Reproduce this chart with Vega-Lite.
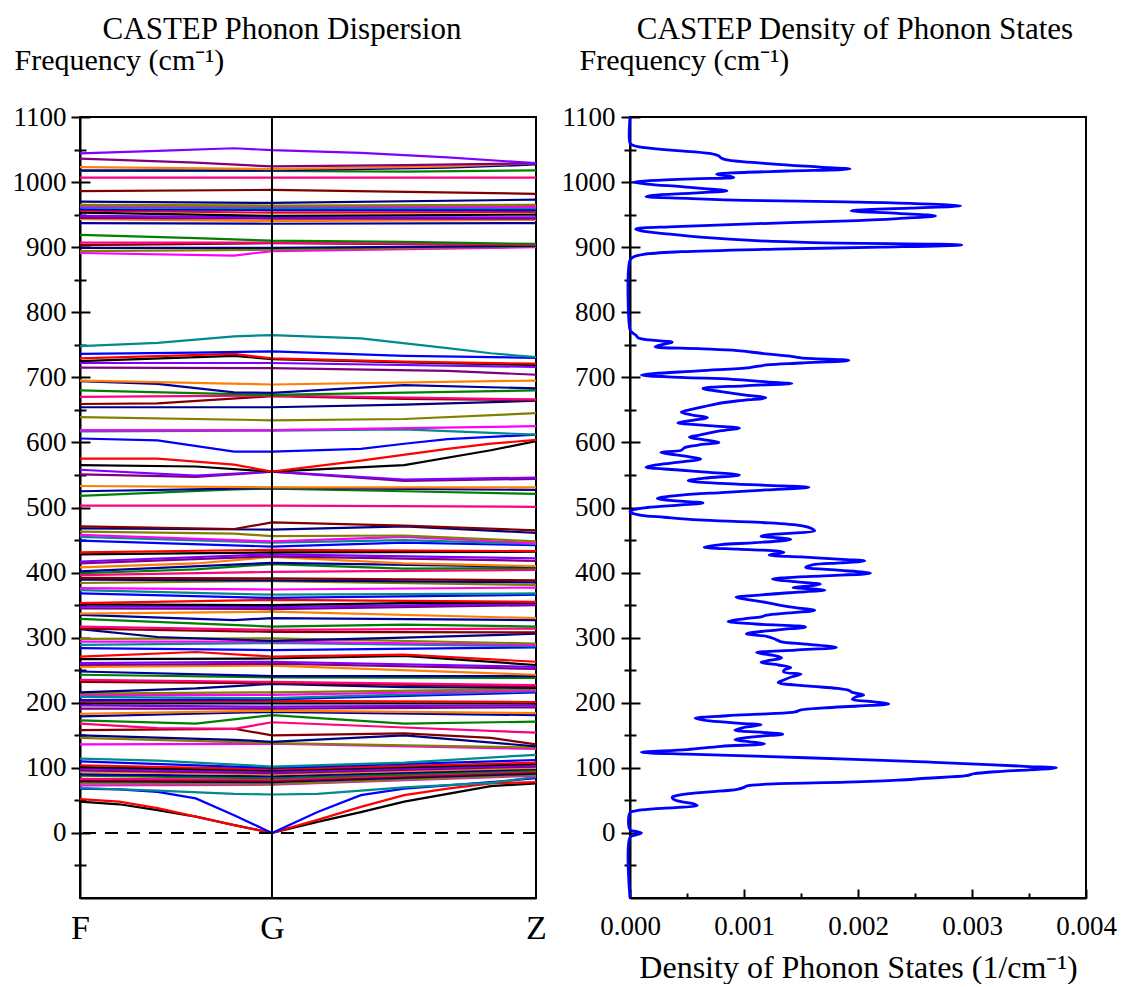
{
"$schema":"https://vega.github.io/schema/vega-lite/v6.json",
"background":"white",
"padding":{"left":11,"top":13,"right":0,"bottom":0},
"config":{
"view":{"stroke":"black","strokeWidth":2},
"font":"Liberation Serif",
"axis":{"domainColor":"black","domainWidth":2,"tickColor":"black","tickWidth":2,"labelColor":"black","titleColor":"black","labelFont":"Liberation Serif","titleFont":"Liberation Serif","titleFontWeight":"normal","grid":false,"labelFlush":false,"labelOverlap":false},
"title":{"font":"Liberation Serif","fontWeight":"normal","fontSize":31,"color":"black"}
},
"datasets":{
"bands":[
{"b":1,"k":0,"f":48},{"b":1,"k":0.086,"f":44},{"b":1,"k":0.17,"f":35},{"b":1,"k":0.254,"f":25},{"b":1,"k":0.338,"f":12},{"b":1,"k":0.421,"f":0},{"b":1,"k":0.521,"f":17},{"b":1,"k":0.616,"f":32},{"b":1,"k":0.711,"f":48},{"b":1,"k":0.806,"f":60},{"b":1,"k":0.901,"f":72},{"b":1,"k":1,"f":76},
{"b":2,"k":0,"f":52},{"b":2,"k":0.086,"f":48},{"b":2,"k":0.17,"f":38},{"b":2,"k":0.254,"f":25},{"b":2,"k":0.338,"f":12},{"b":2,"k":0.421,"f":0},{"b":2,"k":0.521,"f":20},{"b":2,"k":0.616,"f":40},{"b":2,"k":0.711,"f":58},{"b":2,"k":0.806,"f":68},{"b":2,"k":0.901,"f":76},{"b":2,"k":1,"f":78},
{"b":3,"k":0,"f":68},{"b":3,"k":0.086,"f":67},{"b":3,"k":0.17,"f":63},{"b":3,"k":0.254,"f":53},{"b":3,"k":0.338,"f":27},{"b":3,"k":0.421,"f":0},{"b":3,"k":0.521,"f":32},{"b":3,"k":0.616,"f":58},{"b":3,"k":0.711,"f":68},{"b":3,"k":0.806,"f":73},{"b":3,"k":0.901,"f":78},{"b":3,"k":1,"f":84},
{"b":4,"k":0,"f":69},{"b":4,"k":0.17,"f":65},{"b":4,"k":0.338,"f":60},{"b":4,"k":0.421,"f":59},{"b":4,"k":0.521,"f":60},{"b":4,"k":0.711,"f":70},{"b":4,"k":0.901,"f":77},{"b":4,"k":1,"f":86},
{"b":5,"k":0,"f":73},{"b":5,"k":0.421,"f":74},{"b":5,"k":1,"f":88},
{"b":6,"k":0,"f":76},{"b":6,"k":0.421,"f":75},{"b":6,"k":1,"f":89},
{"b":7,"k":0,"f":79},{"b":7,"k":0.421,"f":78},{"b":7,"k":1,"f":91},
{"b":8,"k":0,"f":81},{"b":8,"k":0.421,"f":80},{"b":8,"k":1,"f":93},
{"b":9,"k":0,"f":83},{"b":9,"k":0.421,"f":82},{"b":9,"k":1,"f":95},
{"b":10,"k":0,"f":88},{"b":10,"k":0.421,"f":84},{"b":10,"k":1,"f":96},
{"b":11,"k":0,"f":90},{"b":11,"k":0.421,"f":87},{"b":11,"k":1,"f":98},
{"b":12,"k":0,"f":94},{"b":12,"k":0.421,"f":90},{"b":12,"k":1,"f":100},
{"b":13,"k":0,"f":96},{"b":13,"k":0.421,"f":92},{"b":13,"k":1,"f":102},
{"b":14,"k":0,"f":99},{"b":14,"k":0.421,"f":94},{"b":14,"k":1,"f":104},
{"b":15,"k":0,"f":101},{"b":15,"k":0.421,"f":96},{"b":15,"k":1,"f":106},
{"b":16,"k":0,"f":104},{"b":16,"k":0.421,"f":98},{"b":16,"k":1,"f":108},
{"b":17,"k":0,"f":110},{"b":17,"k":0.421,"f":100},{"b":17,"k":1,"f":112},
{"b":18,"k":0,"f":114},{"b":18,"k":0.17,"f":111},{"b":18,"k":0.421,"f":102},{"b":18,"k":0.711,"f":108},{"b":18,"k":1,"f":120},
{"b":19,"k":0,"f":136},{"b":19,"k":0.421,"f":137},{"b":19,"k":1,"f":129},
{"b":20,"k":0,"f":146},{"b":20,"k":0.421,"f":138},{"b":20,"k":1,"f":131},
{"b":21,"k":0,"f":150},{"b":21,"k":0.338,"f":143},{"b":21,"k":0.421,"f":140},{"b":21,"k":0.711,"f":150},{"b":21,"k":1,"f":133},
{"b":22,"k":0,"f":158},{"b":22,"k":0.338,"f":160},{"b":22,"k":0.421,"f":150},{"b":22,"k":0.711,"f":153},{"b":22,"k":0.901,"f":146},{"b":22,"k":1,"f":136},
{"b":23,"k":0,"f":168},{"b":23,"k":0.17,"f":161},{"b":23,"k":0.338,"f":160},{"b":23,"k":0.421,"f":170},{"b":23,"k":0.711,"f":162},{"b":23,"k":1,"f":154},
{"b":24,"k":0,"f":173},{"b":24,"k":0.254,"f":168},{"b":24,"k":0.421,"f":181},{"b":24,"k":0.711,"f":168},{"b":24,"k":1,"f":171},
{"b":25,"k":0,"f":179},{"b":25,"k":0.421,"f":186},{"b":25,"k":1,"f":181},
{"b":26,"k":0,"f":183},{"b":26,"k":0.421,"f":188},{"b":26,"k":1,"f":184},
{"b":27,"k":0,"f":191},{"b":27,"k":0.421,"f":191},{"b":27,"k":1,"f":193},
{"b":28,"k":0,"f":196},{"b":28,"k":0.421,"f":194},{"b":28,"k":1,"f":196},
{"b":29,"k":0,"f":199},{"b":29,"k":0.421,"f":199},{"b":29,"k":1,"f":199},
{"b":30,"k":0,"f":202},{"b":30,"k":0.421,"f":203},{"b":30,"k":1,"f":201},
{"b":31,"k":0,"f":204},{"b":31,"k":0.421,"f":205},{"b":31,"k":1,"f":216},
{"b":32,"k":0,"f":209},{"b":32,"k":0.421,"f":207},{"b":32,"k":1,"f":218},
{"b":33,"k":0,"f":212},{"b":33,"k":0.421,"f":212},{"b":33,"k":1,"f":219},
{"b":34,"k":0,"f":214},{"b":34,"k":0.421,"f":216},{"b":34,"k":1,"f":221},
{"b":35,"k":0,"f":216},{"b":35,"k":0.254,"f":222},{"b":35,"k":0.421,"f":229},{"b":35,"k":0.711,"f":224},{"b":35,"k":1,"f":223},
{"b":36,"k":0,"f":232},{"b":36,"k":0.421,"f":230},{"b":36,"k":1,"f":225},
{"b":37,"k":0,"f":235},{"b":37,"k":0.421,"f":232},{"b":37,"k":1,"f":227},
{"b":38,"k":0,"f":243},{"b":38,"k":0.421,"f":239},{"b":38,"k":1,"f":238},
{"b":39,"k":0,"f":248},{"b":39,"k":0.421,"f":241},{"b":39,"k":1,"f":241},
{"b":40,"k":0,"f":255},{"b":40,"k":0.421,"f":257},{"b":40,"k":1,"f":243},
{"b":41,"k":0,"f":258},{"b":41,"k":0.421,"f":260},{"b":41,"k":1,"f":252},
{"b":42,"k":0,"f":261},{"b":42,"k":0.421,"f":263},{"b":42,"k":1,"f":255},
{"b":43,"k":0,"f":267},{"b":43,"k":0.421,"f":268},{"b":43,"k":0.711,"f":272},{"b":43,"k":1,"f":258},
{"b":44,"k":0,"f":271},{"b":44,"k":0.254,"f":278},{"b":44,"k":0.421,"f":271},{"b":44,"k":0.711,"f":274},{"b":44,"k":1,"f":263},
{"b":45,"k":0,"f":284},{"b":45,"k":0.421,"f":281},{"b":45,"k":1,"f":285},
{"b":46,"k":0,"f":289},{"b":46,"k":0.421,"f":292},{"b":46,"k":1,"f":287},
{"b":47,"k":0,"f":294},{"b":47,"k":0.421,"f":294},{"b":47,"k":1,"f":289},
{"b":48,"k":0,"f":298},{"b":48,"k":0.421,"f":299},{"b":48,"k":1,"f":291},
{"b":49,"k":0,"f":313},{"b":49,"k":0.17,"f":301},{"b":49,"k":0.421,"f":295},{"b":49,"k":0.711,"f":300},{"b":49,"k":1,"f":306},
{"b":50,"k":0,"f":314},{"b":50,"k":0.421,"f":309},{"b":50,"k":1,"f":308},
{"b":51,"k":0,"f":317},{"b":51,"k":0.421,"f":312},{"b":51,"k":1,"f":314},
{"b":52,"k":0,"f":329},{"b":52,"k":0.421,"f":317},{"b":52,"k":0.711,"f":320},{"b":52,"k":1,"f":317},
{"b":53,"k":0,"f":335},{"b":53,"k":0.338,"f":327},{"b":53,"k":0.421,"f":330},{"b":53,"k":1,"f":327},
{"b":54,"k":0,"f":337},{"b":54,"k":0.421,"f":340},{"b":54,"k":1,"f":330},
{"b":55,"k":0,"f":345},{"b":55,"k":0.421,"f":344},{"b":55,"k":1,"f":350},
{"b":56,"k":0,"f":348},{"b":56,"k":0.421,"f":347},{"b":56,"k":1,"f":352},
{"b":57,"k":0,"f":351},{"b":57,"k":0.421,"f":350},{"b":57,"k":0.711,"f":353},{"b":57,"k":1,"f":354},
{"b":58,"k":0,"f":353},{"b":58,"k":0.421,"f":358},{"b":58,"k":1,"f":355},
{"b":59,"k":0,"f":368},{"b":59,"k":0.421,"f":361},{"b":59,"k":1,"f":366},
{"b":60,"k":0,"f":373},{"b":60,"k":0.421,"f":366},{"b":60,"k":1,"f":368},
{"b":61,"k":0,"f":376},{"b":61,"k":0.421,"f":374},{"b":61,"k":1,"f":377},
{"b":62,"k":0,"f":384},{"b":62,"k":0.421,"f":387},{"b":62,"k":1,"f":381},
{"b":63,"k":0,"f":389},{"b":63,"k":0.421,"f":388},{"b":63,"k":1,"f":385},
{"b":64,"k":0,"f":392},{"b":64,"k":0.421,"f":391},{"b":64,"k":1,"f":388},
{"b":65,"k":0,"f":396},{"b":65,"k":0.421,"f":401},{"b":65,"k":1,"f":404},
{"b":66,"k":0,"f":399},{"b":66,"k":0.254,"f":405},{"b":66,"k":0.421,"f":413},{"b":66,"k":0.711,"f":406},{"b":66,"k":1,"f":407},
{"b":67,"k":0,"f":402},{"b":67,"k":0.421,"f":415},{"b":67,"k":1,"f":409},
{"b":68,"k":0,"f":408},{"b":68,"k":0.254,"f":414},{"b":68,"k":0.421,"f":424},{"b":68,"k":0.711,"f":414},{"b":68,"k":1,"f":410},
{"b":69,"k":0,"f":414},{"b":69,"k":0.421,"f":425},{"b":69,"k":1,"f":418},
{"b":70,"k":0,"f":417},{"b":70,"k":0.421,"f":428},{"b":70,"k":1,"f":422},
{"b":71,"k":0,"f":428},{"b":71,"k":0.421,"f":431},{"b":71,"k":1,"f":432},
{"b":72,"k":0,"f":431},{"b":72,"k":0.421,"f":435},{"b":72,"k":1,"f":433},
{"b":73,"k":0,"f":449},{"b":73,"k":0.421,"f":440},{"b":73,"k":0.711,"f":446},{"b":73,"k":1,"f":442},
{"b":74,"k":0,"f":455},{"b":74,"k":0.421,"f":446},{"b":74,"k":0.711,"f":450},{"b":74,"k":1,"f":444},
{"b":75,"k":0,"f":458},{"b":75,"k":0.421,"f":448},{"b":75,"k":0.711,"f":455},{"b":75,"k":1,"f":445},
{"b":76,"k":0,"f":463},{"b":76,"k":0.338,"f":460},{"b":76,"k":0.421,"f":456},{"b":76,"k":0.711,"f":457},{"b":76,"k":1,"f":448},
{"b":77,"k":0,"f":468},{"b":77,"k":0.421,"f":466},{"b":77,"k":0.711,"f":471},{"b":77,"k":1,"f":461},
{"b":78,"k":0,"f":471},{"b":78,"k":0.338,"f":467},{"b":78,"k":0.421,"f":477},{"b":78,"k":0.711,"f":472},{"b":78,"k":1,"f":465},
{"b":79,"k":0,"f":503},{"b":79,"k":0.421,"f":503},{"b":79,"k":1,"f":501},
{"b":80,"k":0,"f":518},{"b":80,"k":0.338,"f":528},{"b":80,"k":0.421,"f":529},{"b":80,"k":0.711,"f":525},{"b":80,"k":1,"f":521},
{"b":81,"k":0,"f":525},{"b":81,"k":0.338,"f":529},{"b":81,"k":0.421,"f":530},{"b":81,"k":1,"f":527},
{"b":82,"k":0,"f":533},{"b":82,"k":0.421,"f":531},{"b":82,"k":1,"f":531},
{"b":83,"k":0,"f":551},{"b":83,"k":0.254,"f":547},{"b":83,"k":0.421,"f":555},{"b":83,"k":0.711,"f":541},{"b":83,"k":1,"f":544},
{"b":84,"k":0,"f":558},{"b":84,"k":0.254,"f":549},{"b":84,"k":0.421,"f":555},{"b":84,"k":0.711,"f":543},{"b":84,"k":1,"f":546},
{"b":85,"k":0,"f":565},{"b":85,"k":0.254,"f":563},{"b":85,"k":0.421,"f":555},{"b":85,"k":0.711,"f":565},{"b":85,"k":0.901,"f":588},{"b":85,"k":1,"f":602},
{"b":86,"k":0,"f":575},{"b":86,"k":0.17,"f":575},{"b":86,"k":0.338,"f":566},{"b":86,"k":0.421,"f":555},{"b":86,"k":0.616,"f":572},{"b":86,"k":0.806,"f":590},{"b":86,"k":0.901,"f":598},{"b":86,"k":1,"f":604},
{"b":87,"k":0,"f":606},{"b":87,"k":0.17,"f":603},{"b":87,"k":0.338,"f":586},{"b":87,"k":0.421,"f":586},{"b":87,"k":0.616,"f":590},{"b":87,"k":0.711,"f":598},{"b":87,"k":0.806,"f":605},{"b":87,"k":1,"f":612},
{"b":88,"k":0,"f":617},{"b":88,"k":0.421,"f":618},{"b":88,"k":0.711,"f":620},{"b":88,"k":1,"f":612},
{"b":89,"k":0,"f":619},{"b":89,"k":0.421,"f":619},{"b":89,"k":1,"f":625},
{"b":90,"k":0,"f":639},{"b":90,"k":0.421,"f":634},{"b":90,"k":0.711,"f":636},{"b":90,"k":1,"f":645},
{"b":91,"k":0,"f":654},{"b":91,"k":0.421,"f":654},{"b":91,"k":0.711,"f":658},{"b":91,"k":1,"f":664},
{"b":92,"k":0,"f":659},{"b":92,"k":0.17,"f":660},{"b":92,"k":0.421,"f":671},{"b":92,"k":0.711,"f":667},{"b":92,"k":1,"f":665},
{"b":93,"k":0,"f":670},{"b":93,"k":0.421,"f":672},{"b":93,"k":1,"f":666},
{"b":94,"k":0,"f":680},{"b":94,"k":0.421,"f":673},{"b":94,"k":1,"f":680},
{"b":95,"k":0,"f":694},{"b":95,"k":0.17,"f":690},{"b":95,"k":0.338,"f":677},{"b":95,"k":0.421,"f":676},{"b":95,"k":0.711,"f":688},{"b":95,"k":1,"f":683},
{"b":96,"k":0,"f":695},{"b":96,"k":0.421,"f":689},{"b":96,"k":1,"f":695},
{"b":97,"k":0,"f":715},{"b":97,"k":0.421,"f":714},{"b":97,"k":0.806,"f":710},{"b":97,"k":1,"f":704},
{"b":98,"k":0,"f":722},{"b":98,"k":0.421,"f":722},{"b":98,"k":1,"f":716},
{"b":99,"k":0,"f":725},{"b":99,"k":0.338,"f":733},{"b":99,"k":0.421,"f":728},{"b":99,"k":0.711,"f":723},{"b":99,"k":1,"f":719},
{"b":100,"k":0,"f":729},{"b":100,"k":0.338,"f":736},{"b":100,"k":0.421,"f":729},{"b":100,"k":0.711,"f":724},{"b":100,"k":1,"f":721},
{"b":101,"k":0,"f":736},{"b":101,"k":0.254,"f":738},{"b":101,"k":0.421,"f":740},{"b":101,"k":0.711,"f":733},{"b":101,"k":1,"f":730},
{"b":102,"k":0,"f":748},{"b":102,"k":0.17,"f":753},{"b":102,"k":0.338,"f":763},{"b":102,"k":0.421,"f":765},{"b":102,"k":0.616,"f":760},{"b":102,"k":0.806,"f":745},{"b":102,"k":0.901,"f":737},{"b":102,"k":1,"f":731},
{"b":103,"k":0,"f":891},{"b":103,"k":0.338,"f":887},{"b":103,"k":0.421,"f":894},{"b":103,"k":1,"f":900},
{"b":104,"k":0,"f":894},{"b":104,"k":0.421,"f":896},{"b":104,"k":1,"f":901},
{"b":105,"k":0,"f":899},{"b":105,"k":0.421,"f":899},{"b":105,"k":1,"f":902},
{"b":106,"k":0,"f":903},{"b":106,"k":0.421,"f":906},{"b":106,"k":1,"f":903},
{"b":107,"k":0,"f":907},{"b":107,"k":0.421,"f":907},{"b":107,"k":1,"f":904},
{"b":108,"k":0,"f":919},{"b":108,"k":0.254,"f":914},{"b":108,"k":0.421,"f":910},{"b":108,"k":0.711,"f":908},{"b":108,"k":1,"f":905},
{"b":109,"k":0,"f":937},{"b":109,"k":0.421,"f":936},{"b":109,"k":1,"f":937},
{"b":110,"k":0,"f":943},{"b":110,"k":0.421,"f":940},{"b":110,"k":1,"f":942},
{"b":111,"k":0,"f":945},{"b":111,"k":0.421,"f":944},{"b":111,"k":1,"f":944},
{"b":112,"k":0,"f":948},{"b":112,"k":0.421,"f":946},{"b":112,"k":1,"f":946},
{"b":113,"k":0,"f":953},{"b":113,"k":0.421,"f":948},{"b":113,"k":1,"f":950},
{"b":114,"k":0,"f":956},{"b":114,"k":0.421,"f":953},{"b":114,"k":1,"f":954},
{"b":115,"k":0,"f":958},{"b":115,"k":0.421,"f":957},{"b":115,"k":1,"f":957},
{"b":116,"k":0,"f":961},{"b":116,"k":0.421,"f":960},{"b":116,"k":1,"f":960},
{"b":117,"k":0,"f":963},{"b":117,"k":0.421,"f":963},{"b":117,"k":1,"f":962},
{"b":118,"k":0,"f":965},{"b":118,"k":0.421,"f":964},{"b":118,"k":1,"f":965},
{"b":119,"k":0,"f":970},{"b":119,"k":0.421,"f":968},{"b":119,"k":1,"f":973},
{"b":120,"k":0,"f":986},{"b":120,"k":0.421,"f":988},{"b":120,"k":1,"f":982},
{"b":121,"k":0,"f":1007},{"b":121,"k":0.421,"f":1007},{"b":121,"k":1,"f":1007},
{"b":122,"k":0,"f":1017},{"b":122,"k":0.421,"f":1017},{"b":122,"k":0.711,"f":1016},{"b":122,"k":1,"f":1018},
{"b":123,"k":0,"f":1018},{"b":123,"k":0.421,"f":1018},{"b":123,"k":0.806,"f":1022},{"b":123,"k":1,"f":1027},
{"b":124,"k":0,"f":1023},{"b":124,"k":0.421,"f":1020},{"b":124,"k":0.806,"f":1024},{"b":124,"k":1,"f":1029},
{"b":125,"k":0,"f":1036},{"b":125,"k":0.254,"f":1030},{"b":125,"k":0.421,"f":1024},{"b":125,"k":0.711,"f":1026},{"b":125,"k":1,"f":1029},
{"b":126,"k":0,"f":1044},{"b":126,"k":0.17,"f":1048},{"b":126,"k":0.338,"f":1052},{"b":126,"k":0.421,"f":1049},{"b":126,"k":0.616,"f":1045},{"b":126,"k":0.806,"f":1038},{"b":126,"k":1,"f":1029}
],
"dos":[
{"f":1100,"d":0},{"f":1060,"d":0},{"f":1057,"d":0.00002},{"f":1054,"d":0.00008},{"f":1049,"d":0.00036},{"f":1044,"d":0.0007},{"f":1040,"d":0.00078},{"f":1037,"d":0.0008},{"f":1034,"d":0.00085},{"f":1028,"d":0.00124},{"f":1023,"d":0.00167},{"f":1020,"d":0.00193},{"f":1017,"d":0.00138},{"f":1014,"d":0.00089},{"f":1012,"d":0.00076},{"f":1009.5,"d":0.00085},{"f":1007,"d":0.00091},{"f":1005,"d":0.00055},{"f":1002,"d":0.00015},{"f":1000,"d":0.00003},{"f":997,"d":0.00015},{"f":993,"d":0.00045},{"f":989,"d":0.00072},{"f":986.5,"d":0.00085},{"f":983,"d":0.00055},{"f":979.5,"d":0.0002},{"f":977.5,"d":0.00014},{"f":975,"d":0.0005},{"f":972,"d":0.001},{"f":969.5,"d":0.0019},{"f":967,"d":0.0025},{"f":963.5,"d":0.0029},{"f":960,"d":0.00245},{"f":956,"d":0.00194},{"f":952,"d":0.00235},{"f":948,"d":0.00268},{"f":944,"d":0.00235},{"f":940,"d":0.00185},{"f":935.5,"d":0.001},{"f":931.5,"d":0.0004},{"f":928,"d":0.00005},{"f":925,"d":0.0001},{"f":920,"d":0.00035},{"f":915,"d":0.00065},{"f":910,"d":0.0011},{"f":907,"d":0.0016},{"f":903.5,"d":0.00291},{"f":900,"d":0.0022},{"f":897,"d":0.00128},{"f":893,"d":0.00045},{"f":889,"d":0.00012},{"f":885,"d":0.00003},{"f":880,"d":0},
{"f":773,"d":0},{"f":770,"d":0.00001},{"f":765,"d":0.00005},{"f":760,"d":0.00008},{"f":754,"d":0.00037},{"f":751,"d":0.0003},{"f":747,"d":0.00022},{"f":744,"d":0.0006},{"f":741,"d":0.00094},{"f":737,"d":0.00115},{"f":733,"d":0.00138},{"f":730,"d":0.0015},{"f":726,"d":0.00192},{"f":722,"d":0.0015},{"f":719,"d":0.0012},{"f":715,"d":0.00105},{"f":710,"d":0.0006},{"f":703.5,"d":0.0001},{"f":700,"d":0.00045},{"f":697,"d":0.0009},{"f":693,"d":0.0012},{"f":690.5,"d":0.00142},{"f":687,"d":0.001},{"f":683,"d":0.00064},{"f":678,"d":0.0008},{"f":673,"d":0.001},{"f":668.5,"d":0.00119},{"f":664,"d":0.00095},{"f":659,"d":0.00075},{"f":655,"d":0.00065},{"f":651,"d":0.00055},{"f":646.5,"d":0.00045},{"f":642,"d":0.00055},{"f":638,"d":0.00068},{"f":634,"d":0.00055},{"f":630,"d":0.00042},{"f":627,"d":0.0006},{"f":625,"d":0.00075},{"f":622,"d":0.00096},{"f":618,"d":0.0008},{"f":614,"d":0.00068},{"f":611,"d":0.0006},{"f":608,"d":0.00052},{"f":604,"d":0.00065},{"f":600,"d":0.00078},{"f":596,"d":0.0006},{"f":592,"d":0.00048},{"f":588,"d":0.00045},{"f":584.5,"d":0.00027},{"f":581,"d":0.0004},{"f":577,"d":0.00055},{"f":574.5,"d":0.00062},{"f":570,"d":0.00045},{"f":566,"d":0.00025},{"f":562,"d":0.00014},{"f":558,"d":0.0004},{"f":554,"d":0.0007},{"f":550,"d":0.00096},{"f":545,"d":0.00065},{"f":541,"d":0.00051},{"f":537,"d":0.0008},{"f":534,"d":0.0012},{"f":531,"d":0.00157},{"f":527,"d":0.0012},{"f":523,"d":0.0008},{"f":519,"d":0.00045},{"f":514,"d":0.00024},{"f":511,"d":0.00035},{"f":507,"d":0.00064},{"f":504,"d":0.00045},{"f":500,"d":0.00015},{"f":497,"d":0.00004},{"f":494,"d":0},{"f":492,"d":0.00001},{"f":488,"d":0.0001},{"f":485,"d":0.0003},{"f":481,"d":0.0006},{"f":477,"d":0.00115},{"f":472,"d":0.0015},{"f":467,"d":0.0016},{"f":464,"d":0.00162},{"f":460,"d":0.00135},{"f":456,"d":0.00115},{"f":451,"d":0.00141},{"f":446,"d":0.0011},{"f":443,"d":0.0008},{"f":439,"d":0.00065},{"f":436,"d":0.00095},{"f":433,"d":0.0013},{"f":431,"d":0.00135},{"f":427,"d":0.00122},{"f":424,"d":0.0015},{"f":420,"d":0.0019},{"f":418,"d":0.00206},{"f":415,"d":0.00185},{"f":412,"d":0.0016},{"f":408,"d":0.00154},{"f":404,"d":0.0018},{"f":399,"d":0.00211},{"f":395,"d":0.0017},{"f":392,"d":0.00135},{"f":390,"d":0.00125},{"f":386,"d":0.00145},{"f":382,"d":0.00167},{"f":379,"d":0.00155},{"f":377,"d":0.00143},{"f":375,"d":0.0016},{"f":373,"d":0.00171},{"f":369,"d":0.0014},{"f":365,"d":0.0011},{"f":362,"d":0.00093},{"f":358,"d":0.00105},{"f":354,"d":0.0012},{"f":350,"d":0.00131},{"f":346,"d":0.00145},{"f":342,"d":0.00162},{"f":338,"d":0.0014},{"f":334.5,"d":0.0012},{"f":332,"d":0.00115},{"f":329,"d":0.001},{"f":325,"d":0.00086},{"f":321,"d":0.0011},{"f":316.5,"d":0.00154},{"f":312,"d":0.0013},{"f":306,"d":0.00102},{"f":302,"d":0.0012},{"f":298,"d":0.00127},{"f":294,"d":0.00132},{"f":290,"d":0.00155},{"f":285,"d":0.00181},{"f":281,"d":0.00145},{"f":277,"d":0.00111},{"f":273,"d":0.00125},{"f":269,"d":0.00133},{"f":265,"d":0.00122},{"f":262,"d":0.00115},{"f":258,"d":0.0013},{"f":254,"d":0.00141},{"f":250,"d":0.00135},{"f":247,"d":0.00135},{"f":244,"d":0.0015},{"f":240,"d":0.00142},{"f":235,"d":0.00135},{"f":231,"d":0.0013},{"f":226,"d":0.00155},{"f":222,"d":0.00182},{"f":219,"d":0.00192},{"f":216,"d":0.00195},{"f":212,"d":0.00205},{"f":209,"d":0.00198},{"f":205,"d":0.00195},{"f":202,"d":0.0021},{"f":198,"d":0.00227},{"f":195,"d":0.002},{"f":192,"d":0.0017},{"f":189,"d":0.0015},{"f":186,"d":0.00145},{"f":183,"d":0.0012},{"f":180,"d":0.00085},{"f":176,"d":0.00057},{"f":172,"d":0.0007},{"f":168,"d":0.001},{"f":166,"d":0.00115},{"f":162,"d":0.001},{"f":158,"d":0.00092},{"f":154,"d":0.0012},{"f":151.5,"d":0.00134},{"f":148,"d":0.0011},{"f":143,"d":0.00092},{"f":140,"d":0.00105},{"f":137,"d":0.00118},{"f":133,"d":0.0008},{"f":128,"d":0.0005},{"f":124,"d":0.0001},{"f":121,"d":0.0005},{"f":118,"d":0.0011},{"f":113,"d":0.00197},{"f":109,"d":0.0026},{"f":105,"d":0.00314},{"f":102,"d":0.0035},{"f":100,"d":0.00374},{"f":97,"d":0.0035},{"f":94,"d":0.0032},{"f":91,"d":0.00302},{"f":88,"d":0.00295},{"f":84,"d":0.0026},{"f":81,"d":0.00235},{"f":78,"d":0.0019},{"f":75,"d":0.0012},{"f":72,"d":0.00102},{"f":70,"d":0.001},{"f":67,"d":0.00094},{"f":63,"d":0.0007},{"f":60,"d":0.0005},{"f":57,"d":0.0004},{"f":55,"d":0.00037},{"f":52,"d":0.00038},{"f":48,"d":0.00045},{"f":45,"d":0.00055},{"f":42,"d":0.00059},{"f":39,"d":0.0004},{"f":37,"d":0.00021},{"f":34,"d":0.00005},{"f":31,"d":0},{"f":5,"d":0},{"f":2,"d":0.00006},{"f":0,"d":0.0001},{"f":-3,"d":0.00005},{"f":-7,"d":0},{"f":-100,"d":0}
]
},
"spacing":94,
"bounds":"flush",
"hconcat":[
{
"width":456,"height":781,
"title":{"text":"CASTEP Phonon Dispersion","frame":"group","anchor":"middle","baseline":"alphabetic","offset":-25,"dx":-26},
"layer":[
{
"data":{"name":"bands"},
"mark":{"type":"line","strokeWidth":2.2},
"encoding":{
"x":{"field":"k","type":"quantitative","scale":{"domain":[0,1]},"axis":{"values":[0,0.421,1],"labelExpr":"datum.value === 0 ? 'F' : (datum.value === 1 ? 'Z' : 'G')","ticks":false,"labelFontSize":34,"labelBaseline":"alphabetic","labelPadding":40,"title":null}},
"y":{"field":"f","type":"quantitative","scale":{"domain":[-100,1100]},"axis":{"orient":"left","values":[-50,0,50,100,150,200,250,300,350,400,450,500,550,600,650,700,750,800,850,900,950,1000,1050,1100],"format":"d","labelExpr":"datum.value >= 0 && datum.value % 100 === 0 ? datum.label : ''","tickSize":{"condition":{"test":"datum.value % 100 === 0","value":9},"value":6},"labelFontSize":27,"labelPadding":5,"labelBaseline":"middle","title":"Frequency (cm⁻¹)","titleFontSize":30,"titleAngle":0,"titleAlign":"left","titleBaseline":"alphabetic","titleX":-66,"titleY":-48}},
"color":{"field":"b","type":"ordinal","scale":{"range":["#000000","#ff0000","#0000ff","#008b8b","#ff00ff","#808000","#000080","#800000","#ff0080","#008000","#00009c","#ff8000","#800080","#8000ff"]},"legend":null}
}
},
{
"data":{"values":[{"k":0.421}]},
"mark":{"type":"rule","strokeWidth":2,"color":"black"},
"encoding":{"x":{"field":"k","type":"quantitative","scale":{"domain":[0,1]}}}
},
{
"data":{"values":[{"f":0}]},
"mark":{"type":"rule","strokeWidth":2,"color":"black","strokeDash":[13,9]},
"encoding":{"y":{"field":"f","type":"quantitative","scale":{"domain":[-100,1100]},"axis":{"orient":"left","values":[-50,0,50,100,150,200,250,300,350,400,450,500,550,600,650,700,750,800,850,900,950,1000,1050,1100],"labels":false,"domain":false,"title":null,"tickSize":{"condition":{"test":"datum.value % 100 === 0","value":-10},"value":-6}}}}
}
],
"resolve":{"axis":{"y":"independent"}}
},
{
"width":456,"height":781,
"title":{"text":"CASTEP Density of Phonon States","frame":"group","anchor":"middle","baseline":"alphabetic","offset":-25,"dx":-3},
"layer":[
{
"data":{"name":"dos"},
"mark":{"type":"line","color":"#0000ff","strokeWidth":2.8,"interpolate":"catmull-rom"},
"encoding":{
"x":{"field":"d","type":"quantitative","scale":{"domain":[0,0.004]},"axis":{"values":[0,0.001,0.002,0.003,0.004],"format":".3f","ticks":false,"labelFontSize":27,"labelBaseline":"alphabetic","labelPadding":36,"title":"Density of Phonon States (1/cm⁻¹)","titleFontSize":32,"titleBaseline":"alphabetic","titleY":79}},
"y":{"field":"f","type":"quantitative","scale":{"domain":[-100,1100]},"axis":{"orient":"left","values":[-50,0,50,100,150,200,250,300,350,400,450,500,550,600,650,700,750,800,850,900,950,1000,1050,1100],"format":"d","labelExpr":"datum.value >= 0 && datum.value % 100 === 0 ? datum.label : ''","tickSize":{"condition":{"test":"datum.value % 100 === 0","value":9},"value":6},"labelFontSize":27,"labelPadding":6,"labelBaseline":"middle","title":"Frequency (cm⁻¹)","titleFontSize":30,"titleAngle":0,"titleAlign":"left","titleBaseline":"alphabetic","titleX":-51,"titleY":-48}},
"order":{"field":"f","type":"quantitative"}
}
},
{
"data":{"values":[{"f":0,"d":0}]},
"mark":{"type":"point","opacity":0},
"encoding":{
"x":{"field":"d","type":"quantitative","scale":{"domain":[0,0.004]},"axis":{"orient":"bottom","values":[0,0.0005,0.001,0.0015,0.002,0.0025,0.003,0.0035,0.004],"labels":false,"domain":false,"title":null,"tickSize":{"condition":{"test":"abs(datum.value*1000 - round(datum.value*1000)) < 0.000001","value":-9},"value":-5}}},
"y":{"field":"f","type":"quantitative","scale":{"domain":[-100,1100]},"axis":{"orient":"left","values":[-50,0,50,100,150,200,250,300,350,400,450,500,550,600,650,700,750,800,850,900,950,1000,1050,1100],"labels":false,"domain":false,"title":null,"tickSize":{"condition":{"test":"datum.value % 100 === 0","value":-10},"value":-6}}}
}
}
],
"resolve":{"axis":{"x":"independent","y":"independent"}}
}
]
}
